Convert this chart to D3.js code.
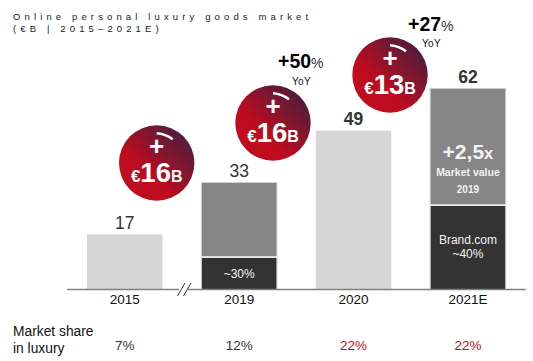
<!DOCTYPE html>
<html>
<head>
<meta charset="utf-8">
<script src="https://cdn.jsdelivr.net/npm/d3@7"></script>
<style>
  html, body { margin: 0; padding: 0; background: #fff; }
  svg { display: block; }
  text { font-family: "Liberation Sans", Arial, sans-serif; }
</style>
</head>
<body>
<div id="chart"></div>
<script>
// chart data
var years = ["2015", "2019", "2020", "2021E"];
var totals = [17, 33, 49, 62];
var brandCom = [0, 10, 0, 26];
var shares = ["7%", "12%", "22%", "22%"];
var bubbleValues = ["16", "16", "13"];
var growthLabels = ["+50", "+27"];

var svgWidth = 533;
var svgHeight = 361;
var baseY = 289.5;

var red = "#c00d1e";

var svg = d3.select("#chart")
    .append("svg")
    .attr("width", svgWidth)
    .attr("height", svgHeight);

var xScale = d3.scaleBand()
    .domain(years)
    .range([87, 505.7])
    .paddingInner(0.34)
    .paddingOuter(0);

var yScale = d3.scaleLinear()
    .domain([0, 62])
    .range([baseY, 88.5]);

var barCentre = y => xScale(y) + xScale.bandwidth() / 2;

// gradient for the bubbles
var grad = svg.append("defs").append("linearGradient")
    .attr("id", "bubbleFill")
    .attr("x1", "0.85").attr("y1", "0.2")
    .attr("x2", "0.25").attr("y2", "0.8");
grad.append("stop").attr("offset", "0").attr("stop-color", "#5a1b38");
grad.append("stop").attr("offset", "0.3").attr("stop-color", "#7e1630");
grad.append("stop").attr("offset", "0.75").attr("stop-color", "#bd0c1e");
grad.append("stop").attr("offset", "1").attr("stop-color", "#c00d1e");

// title
var title = svg.append("g")
    .attr("font-size", 9.5)
    .attr("letter-spacing", 4.13)
    .attr("fill", "#222");
title.append("text").attr("x", 13).attr("y", 20).text("Online personal luxury goods market");
title.append("text").attr("x", 13).attr("y", 32).text("(€B | 2015–2021E)");

// bars
var barRows = years.map((y, i) => ({year: y, total: totals[i], brand: brandCom[i]}));

svg.selectAll(".plain")
    .data(barRows.filter(d => d.brand === 0))
    .enter()
    .append("rect")
    .attr("class", "plain")
    .attr("x", d => xScale(d.year))
    .attr("y", d => yScale(d.total))
    .attr("width", xScale.bandwidth())
    .attr("height", d => baseY - yScale(d.total))
    .attr("fill", "#d6d6d6");

var stacked = barRows.filter(d => d.brand > 0);

svg.selectAll(".upper")
    .data(stacked)
    .enter()
    .append("rect")
    .attr("class", "upper")
    .attr("x", d => xScale(d.year))
    .attr("y", d => yScale(d.total))
    .attr("width", xScale.bandwidth())
    .attr("height", d => yScale(d.brand) - yScale(d.total))
    .attr("fill", "#868686")
    .attr("stroke", "#cfcfcf")
    .attr("stroke-width", 1);

svg.selectAll(".lower")
    .data(stacked)
    .enter()
    .append("rect")
    .attr("class", "lower")
    .attr("x", d => xScale(d.year))
    .attr("y", d => yScale(d.brand))
    .attr("width", xScale.bandwidth())
    .attr("height", d => baseY - yScale(d.brand))
    .attr("fill", "#333333")
    .attr("stroke", "#cfcfcf")
    .attr("stroke-width", 1);

// white line between the two parts of a stack
svg.selectAll(".split")
    .data(stacked)
    .enter()
    .append("line")
    .attr("class", "split")
    .attr("x1", d => xScale(d.year))
    .attr("x2", d => xScale(d.year) + xScale.bandwidth())
    .attr("y1", d => yScale(d.brand))
    .attr("y2", d => yScale(d.brand))
    .attr("stroke", "#fff")
    .attr("stroke-width", 1.2);

// axis
var axis = svg.append("g")
    .attr("transform", `translate(0, ${baseY})`)
    .call(d3.axisBottom(xScale).tickSize(0).tickPadding(5));
axis.select(".domain").remove();
axis.selectAll("text")
    .attr("font-size", 13.5)
    .attr("font-family", '"Liberation Sans", Arial, sans-serif')
    .attr("fill", "#111");

svg.append("line")
    .attr("x1", 67).attr("x2", 525.7)
    .attr("y1", baseY).attr("y2", baseY)
    .attr("stroke", "#808080")
    .attr("stroke-width", 1.5);

// axis break
svg.append("rect")
    .attr("x", 179).attr("y", baseY - 2)
    .attr("width", 9).attr("height", 4)
    .attr("fill", "#fff");
[0, 6].forEach(function(dx) {
    svg.append("line")
        .attr("x1", 177.5 + dx).attr("y1", 296)
        .attr("x2", 185 + dx).attr("y2", 283)
        .attr("stroke", "#333")
        .attr("stroke-width", 1);
});

// total labels
svg.selectAll(".total")
    .data(barRows)
    .enter()
    .append("text")
    .attr("class", "total")
    .attr("x", d => barCentre(d.year))
    .attr("y", d => yScale(d.total) - 5.5)
    .attr("text-anchor", "middle")
    .attr("font-size", 17.5)
    .attr("font-weight", d => d.total > 40 ? "bold" : "normal")
    .attr("fill", "#333")
    .text(d => d.total);

// text inside the stacked bars
function barText(year, y, size, weight, content, fill) {
    return svg.append("text")
        .attr("x", barCentre(year))
        .attr("y", y)
        .attr("text-anchor", "middle")
        .attr("font-size", size)
        .attr("font-weight", weight)
        .attr("fill", fill || "#f2f2f2")
        .text(content);
}
barText("2019", 277.7, 12, "normal", "~30%");
barText("2021E", 244, 12, "normal", "Brand.com");
barText("2021E", 258, 12, "normal", "~40%");
barText("2021E", 175.7, 10.5, "bold", "Market value");
barText("2021E", 192.7, 10, "bold", "2019");

var mult = barText("2021E", 159, 21, "bold", "");
mult.append("tspan").text("+2,5");
mult.append("tspan").attr("font-size", 16.5).text("x");

// bubbles
var bubbleCentres = [[156.7, 163], [273, 123], [390, 75]];
var bubbles = svg.selectAll(".bubble")
    .data(bubbleValues)
    .enter()
    .append("g")
    .attr("class", "bubble")
    .attr("transform", (d, i) => `translate(${bubbleCentres[i][0]}, ${bubbleCentres[i][1]})`);

bubbles.append("circle")
    .attr("r", 37.7)
    .attr("fill", "url(#bubbleFill)");

bubbles.append("path")
    .attr("d", "M0,-29.7 Q9,-29 16,-23.7")
    .attr("fill", "none")
    .attr("stroke", "#fff")
    .attr("stroke-width", 2.6);

bubbles.append("text")
    .attr("y", -8)
    .attr("text-anchor", "middle")
    .attr("font-size", 26)
    .attr("font-weight", "bold")
    .attr("fill", "#fff")
    .text("+");

var bubbleText = bubbles.append("text")
    .attr("y", 19)
    .attr("text-anchor", "middle")
    .attr("font-weight", "bold")
    .attr("fill", "#fff");
bubbleText.append("tspan").attr("font-size", 17).text("€");
bubbleText.append("tspan").attr("font-size", 27.5).text(d => d);
bubbleText.append("tspan").attr("font-size", 16).text("B");

// yoy growth
var growthPos = [[278, 68, 292, 85], [408, 30.7, 422, 47]];
growthLabels.forEach(function(g, i) {
    var p = growthPos[i];
    var t = svg.append("text").attr("x", p[0]).attr("y", p[1]);
    t.append("tspan")
        .attr("font-size", 19.5)
        .attr("font-weight", "bold")
        .attr("fill", "#000")
        .text(g);
    t.append("tspan")
        .attr("font-size", 14)
        .attr("fill", "#333")
        .text("%");
    svg.append("text")
        .attr("x", p[2]).attr("y", p[3])
        .attr("font-size", 10)
        .attr("letter-spacing", 0.3)
        .attr("fill", "#111")
        .text("YoY");
});

// market share row
svg.append("text").attr("x", 13).attr("y", 336)
    .attr("font-size", 13.8).attr("fill", "#111").text("Market share");
svg.append("text").attr("x", 13).attr("y", 352.7)
    .attr("font-size", 13.8).attr("fill", "#111").text("in luxury");

svg.selectAll(".share")
    .data(shares)
    .enter()
    .append("text")
    .attr("class", "share")
    .attr("x", (d, i) => barCentre(years[i]))
    .attr("y", 350)
    .attr("text-anchor", "middle")
    .attr("font-size", 13.5)
    .attr("fill", d => d === "22%" ? red : "#333")
    .text(d => d);
</script>
</body>
</html>
